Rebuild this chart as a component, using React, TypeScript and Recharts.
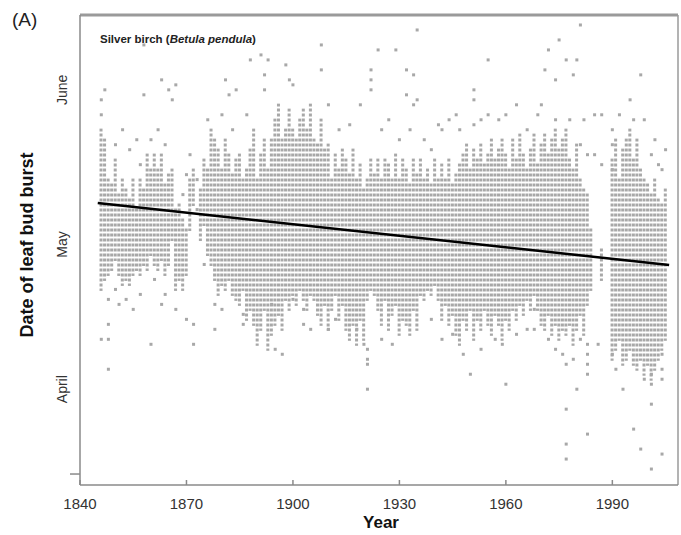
import { ComposedChart, Bar, Line, Scatter, XAxis, YAxis, ReferenceLine } from "recharts";

// one column of bud-burst dates per year (day of year, dense band)
const years = [
  1846, 1847, 1848, 1849, 1850, 1851, 1852, 1853, 1854, 1855,
  1856, 1857, 1858, 1859, 1860, 1861, 1862, 1863, 1864, 1865,
  1866, 1867, 1868, 1869, 1870, 1871, 1872, 1873, 1874, 1875,
  1876, 1877, 1878, 1879, 1880, 1881, 1882, 1883, 1884, 1885,
  1886, 1887, 1888, 1889, 1890, 1891, 1892, 1893, 1894, 1895,
  1896, 1897, 1898, 1899, 1900, 1901, 1902, 1903, 1904, 1905,
  1906, 1907, 1908, 1909, 1910, 1911, 1912, 1913, 1914, 1915,
  1916, 1917, 1918, 1919, 1920, 1921, 1922, 1923, 1924, 1925,
  1926, 1927, 1928, 1929, 1930, 1931, 1932, 1933, 1934, 1935,
  1936, 1937, 1938, 1939, 1940, 1941, 1942, 1943, 1944, 1945,
  1946, 1947, 1948, 1949, 1950, 1951, 1952, 1953, 1954, 1955,
  1956, 1957, 1958, 1959, 1960, 1961, 1962, 1963, 1964, 1965,
  1966, 1967, 1968, 1969, 1970, 1971, 1972, 1973, 1974, 1975,
  1976, 1977, 1978, 1979, 1980, 1981, 1982, 1983, 1984, 1985,
  1986, 1987, 1988, 1989, 1990, 1991, 1992, 1993, 1994, 1995,
  1996, 1997, 1998, 1999, 2000, 2001, 2002, 2003, 2004, 2005,
];

const bandLow = [
  128, 130, 131, 132, 134, 131, 129, 130, 129, 131,
  132, 131, 133, 132, 135, 133, 132, 134, 131, 133,
  138, 128, 130, 128, 131, 140, 145, null, 138, 141,
  135, 133, 130, 127, 129, 128, 130, 127, 126, 125,
  128, 122, 124, 121, 117, 120, 124, 116, 119, 121,
  123, 120, 126, 124, 127, 125, 128, 126, 124, 127,
  126, 123, 121, 125, 120, 124, 127, 122, 125, 120,
  118, 121, 117, 122, 118, 126, 128, 127, 124, 121,
  126, 120, 123, 125, 119, 122, 121, 119, 124, 120,
  127, 126, 128, 127, 129, 126, 122, 125, 121, 123,
  119, 117, 122, 120, 124, 118, 122, 120, 124, 121,
  119, 123, 121, 118, 122, 120, 124, 122, 125, 123,
  126, 124, 127, 124, 121, 120, 123, 119, 121, 118,
  120, 119, 121, 117, 120, 123, 119, 125, 128, null,
  null, 130, null, null, 114, 116, 118, 113, 114, 116,
  113, 112, 114, 111, 113, 110, 112, 114, 116, 118,
];

const bandHigh = [
  160, 158, 150, 149, 154, 147, 150, 148, 146, 150,
  144, 150, 148, 155, 152, 155, 152, 155, 149, 151,
  152, 144, 145, 142, 140, 150, 152, null, 148, 154,
  152, 160, 158, 156, 152, 158, 155, 151, 154, 155,
  150, 152, 156, 160, 150, 155, 158, 152, 158, 162,
  165, 158, 160, 164, 160, 158, 162, 164, 160, 165,
  158, 157, 162, 156, 157, 150, 155, 152, 156, 154,
  151, 156, 150, 153, 148, 150, 154, 151, 154, 150,
  154, 153, 150, 155, 150, 154, 152, 149, 154, 151,
  154, 150, 152, 149, 154, 150, 153, 150, 154, 149,
  151, 153, 155, 157, 152, 156, 154, 157, 153, 155,
  158, 154, 156, 158, 155, 152, 158, 154, 159, 155,
  152, 156, 159, 153, 157, 159, 155, 158, 160, 156,
  158, 160, 154, 152, 157, 150, 148, 147, 140, null,
  null, 136, null, null, 154, 158, 150, 156, 158, 160,
  154, 158, 152, 150, 149, 147, 150, 146, 145, 148,
];

// scattered single records outside the dense band
const outlierYears = [
  1858, 1888, 1891, 1893, 1908, 1847, 1858, 1863, 1865, 1866, 1867,
  1881, 1882, 1884, 1892, 1892, 1898, 1899, 1900, 1908,
  1924, 1929, 1935, 1922, 1922, 1922, 1932, 1934, 1932, 1934, 1935,
  1955, 1951, 1951, 1972, 1975, 1981, 1971, 1974, 1977, 1980, 1979, 1998,
  1955, 1960, 1969, 1974, 1978, 1982, 1985, 1987, 1996, 1999,
  1941, 1944, 1946, 1951, 1990, 1990, 1990, 2001, 2003, 2004, 1985, 1987,
  1921, 1921, 1921, 1921, 1918, 1920, 1948, 1950, 1960, 1959, 1968, 1968,
  1976, 1977, 1983, 1983, 1983, 1983, 1986, 1980, 1977, 1983, 1977, 1977,
  1990, 1991, 1993, 1996, 1998, 1999, 2001, 2001, 2001, 2001, 2004, 2004, 2004, 2004,
  1851, 1846, 1848, 1848, 1848, 1848, 1860, 1863, 1870, 1872, 1872, 1878, 1878,
  1886, 1886, 1894, 1895, 1897, 1900, 1903, 1903, 1910, 1846, 1846,
  1850, 1852, 1854, 1856, 1857, 1860, 1862, 1864, 1869, 1870, 1871, 1873, 1873,
  1876, 1880, 1883, 1887, 1910, 1913, 1916, 1919, 1925, 1927, 1930, 1933, 1937,
  1939, 1942, 1947, 1953, 1958, 1963, 1966, 1970, 1981, 1983, 1992, 1995, 2002, 2005,
  1850, 1853, 1855, 1857, 1861, 1864, 1867, 1875, 1880, 1905, 1912, 1925,
  1928, 1939, 1942, 1945, 1953, 1957, 1963, 1966, 1972, 1974, 1979, 1981,
];

const outlierDays = [
  177, 174, 175, 174, 177, 168, 167, 170, 168, 166, 169,
  170, 167, 168, 171, 168, 173, 170, 169, 172,
  176, 176, 180, 172, 170, 168, 172, 171, 167, 165, 166,
  174, 168, 166, 176, 178, 181, 172, 170, 174, 174, 171, 171,
  163, 163, 163, 162, 162, 162, 163, 163, 162, 162,
  161, 162, 163, 161, 160, 157, 152, 155, 153, 152, 155, 153,
  108, 116, 114, 113, 120, 117, 115, 111, 109, 117, 120, 124,
  115, 113, 117, 115, 113, 111, 117, 108, 104, 99, 97, 94,
  115, 112, 108, 100, 96, 110, 111, 109, 105, 92, 95, 115, 112, 110,
  125, 118, 118, 112, 121, 126, 117, 125, 122, 121, 117, 125, 120,
  123, 121, 125, 116, 115, 126, 124, 121, 120, 166, 163,
  157, 160, 156, 158, 153, 158, 160, 157, 147, 151, 155, 150, 144,
  162, 163, 160, 163, 165, 160, 161, 165, 160, 162, 158, 160, 158,
  156, 160, 160, 162, 162, 165, 160, 165, 157, 155, 163, 166, 158, 156,
  128, 126, 124, 127, 130, 127, 124, 133, 124, 120, 122, 118,
  117, 122, 118, 119, 116, 118, 119, 120, 118, 116, 114, 118,
];

// fitted trend (ends)
const trendYears = [1845, 2006];
const trendDays = [145.3, 132.9];

const xTicks = [1840, 1870, 1900, 1930, 1960, 1990];
const monthEdges = [91, 121, 152, 182];
const monthLabels: Record<number, string> = { 108: "April", 137: "May", 168: "June" };

const bandData = years.map((year, i) => ({
  year,
  range: bandLow[i] == null ? null : [bandLow[i], bandHigh[i]],
}));
const outlierData = outlierYears.map((year, i) => ({ year, day: outlierDays[i] }));
const trendData = trendYears.map((year, i) => ({ year, day: trendDays[i] }));

const DOT = "#a8a8a8";
const AXIS = "#8a8a8a";
const FONT = '"Liberation Sans", Arial, Helvetica, sans-serif';

function DotColumn(props: any) {
  const { x, y, width, height } = props;
  if (x == null || y == null || height == null || isNaN(y)) return null;
  const top = Math.min(y, y + height);
  const h = Math.abs(height);
  return <rect x={x} y={top - 1.5} width={width} height={h + 3} fill="url(#dotRows)" />;
}

function DotSquare(props: any) {
  const { cx, cy } = props;
  if (cx == null || cy == null) return null;
  return <rect x={cx - 1.5} y={cy - 1.5} width={3} height={3} fill={DOT} />;
}

function YearTick({ x, y, payload }: any) {
  return (
    <g>
      <line x1={x} x2={x} y1={y} y2={y - 5} stroke={AXIS} strokeWidth={1.5} />
      <text x={x} y={y + 24} textAnchor="middle" fontSize={15} fill="#333" fontFamily={FONT}>
        {payload.value}
      </text>
    </g>
  );
}

function MonthTick({ x, y, payload }: any) {
  const label = monthLabels[payload.value];
  if (label) {
    return (
      <text
        transform={`translate(${x - 18},${y}) rotate(-90)`}
        textAnchor="middle"
        dominantBaseline="central"
        fontSize={14}
        fill="#333"
        fontFamily={FONT}
      >
        {label}
      </text>
    );
  }
  return <line x1={x - 10} x2={x} y1={y} y2={y} stroke={AXIS} strokeWidth={1.5} />;
}

export default function App() {
  return (
    <div style={{ position: "absolute", left: 0, top: 0, width: 681, height: 535, background: "#fff", fontFamily: FONT }}>
      <svg width={0} height={0} style={{ position: "absolute" }}>
        <defs>
          <pattern id="dotRows" patternUnits="userSpaceOnUse" x={0} y={3.5} width={10} height={5}>
            <rect x={0} y={0} width={10} height={3} fill={DOT} />
          </pattern>
        </defs>
      </svg>
      <ComposedChart
        width={681}
        height={535}
        data={bandData}
        margin={{ top: 15, right: 3, bottom: 20, left: 20 }}
      >
        <XAxis
          type="number"
          dataKey="year"
          domain={[1840, 2008.5]}
          allowDataOverflow
          ticks={xTicks}
          tick={<YearTick />}
          tickLine={false}
          tickSize={0}
          tickMargin={0}
          height={30}
          axisLine={{ stroke: AXIS, strokeWidth: 1.5 }}
        />
        <YAxis
          type="number"
          domain={[88.8, 183]}
          allowDataOverflow
          ticks={[...monthEdges, 108, 137, 168]}
          tick={<MonthTick />}
          tickLine={false}
          tickSize={0}
          tickMargin={0}
          width={60}
          axisLine={{ stroke: AXIS, strokeWidth: 1.5 }}
        />
        <ReferenceLine y={183} stroke="#9a9a9a" strokeWidth={3} />
        <ReferenceLine x={2008.5} stroke="#9a9a9a" strokeWidth={1.5} />
        <Bar dataKey="range" barSize={3} shape={<DotColumn />} isAnimationActive={false} />
        <Scatter data={outlierData} dataKey="day" shape={<DotSquare />} isAnimationActive={false} />
        <Line
          data={trendData}
          dataKey="day"
          type="linear"
          stroke="#000"
          strokeWidth={2.5}
          dot={false}
          isAnimationActive={false}
        />
      </ComposedChart>
      <div style={{ position: "absolute", left: 12, top: 9, fontSize: 19, color: "#222" }}>(A)</div>
      <div style={{ position: "absolute", left: 100, top: 33, fontSize: 11.5, fontWeight: "bold", color: "#222" }}>
        Silver birch (<i>Betula pendula</i>)
      </div>
      <div
        style={{
          position: "absolute",
          left: 27,
          top: 245,
          transform: "translate(-50%, -50%) rotate(-90deg)",
          whiteSpace: "nowrap",
          fontSize: 18,
          fontWeight: "bold",
          color: "#111",
        }}
      >
        Date of leaf bud burst
      </div>
      <div
        style={{
          position: "absolute",
          left: 381,
          top: 523,
          transform: "translate(-50%, -50%)",
          fontSize: 17,
          fontWeight: "bold",
          color: "#111",
        }}
      >
        Year
      </div>
    </div>
  );
}
